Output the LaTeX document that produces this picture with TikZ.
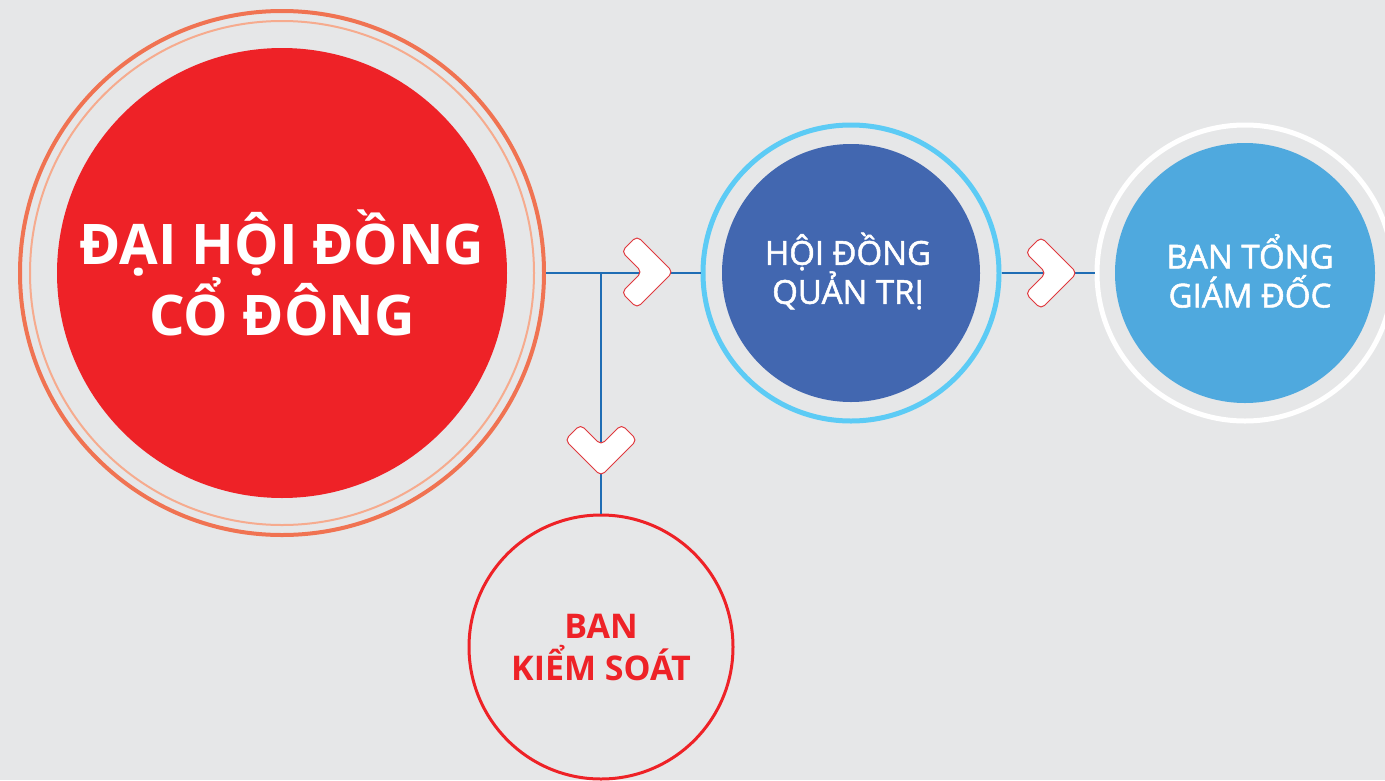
\documentclass[tikz,border=0pt]{standalone}
\usepackage{fontspec}
\setmainfont{Open Sans}
\newfontfamily\semibold{Open Sans}[UprightFeatures={FakeBold=1.6}]
\usepackage{tikz}
\usetikzlibrary{positioning, shapes.geometric, calc}

\definecolor{bggrey}{HTML}{E6E7E8}
\definecolor{ringorange}{HTML}{F07352}
\definecolor{ringpeach}{HTML}{F6AB8E}
\definecolor{redfill}{HTML}{EE2227}
\definecolor{navyfill}{HTML}{4267B0}
\definecolor{skyring}{HTML}{5CCBF5}
\definecolor{skyfill}{HTML}{4FA9DE}
\definecolor{linkblue}{HTML}{1F6DB4}
\definecolor{chevred}{HTML}{E0393E}

% chevron with its tip at (#1,#2), turned by #3
\newcommand{\chevron}[3]{%
  \begin{scope}[shift={(#1,#2)}, rotate=#3]
    \draw[chev] (0,0) -- (-36,-36) -- (-51.5,-20.5) -- (-31,0)
      -- (-51.5,20.5) -- (-36,36) -- cycle;
  \end{scope}}

\begin{document}
\begin{tikzpicture}[x=1pt, y=-1pt]
\tikzstyle{ring}=[circle, inner sep=0pt, draw]
\tikzstyle{disc}=[circle, inner sep=0pt, align=center, text=white]
\tikzstyle{link}=[draw=linkblue, line width=2pt]
\tikzstyle{chev}=[fill=white, draw=chevred, line width=1pt, rounded corners=5pt]

\fill[bggrey] (0,0) rectangle (1385,780);
\useasboundingbox (0,0) rectangle (1385,780);

% general meeting
\node (dhdcd ring) [ring, draw=ringorange, line width=4pt, minimum size=524pt]
  at (282,273) {};
\node (dhdcd thin) [ring, draw=ringpeach, line width=2pt, minimum size=504pt]
  at (dhdcd ring.center) {};
\node (dhdcd) [disc, fill=redfill, minimum size=450pt,
  font=\bfseries\fontsize{56}{61}\selectfont] at (dhdcd ring.center)
  {ĐẠI HỘI ĐỒNG\\CỔ ĐÔNG};

% board
\node (hdqt ring) [ring, draw=skyring, line width=5pt, minimum size=296pt]
  at (851,273) {};
\node (hdqt) [disc, fill=navyfill, minimum size=258pt] at (hdqt ring.center) {};
\node (hdqt text) [align=center, text=white,
  font=\semibold\fontsize{33}{39}\selectfont, xshift=-3pt, yshift=2pt]
  at (hdqt.center) {HỘI ĐỒNG\\QUẢN TRỊ};

% executive board
\node (btgd ring) [ring, draw=white, line width=5pt, minimum size=296pt]
  at (1245,273) {};
\node (btgd) [disc, fill=skyfill, minimum size=260pt] at (btgd ring.center) {};
\node (btgd text) [align=center, text=white,
  font=\semibold\fontsize{33}{39}\selectfont, xshift=5pt, yshift=2pt]
  at (btgd.center) {BAN TỔNG\\GIÁM ĐỐC};

% supervisory board
\node (bks) [ring, draw=redfill, line width=3pt, minimum size=264pt,
  align=center, text=redfill, font=\bfseries\fontsize{34}{42}\selectfont]
  at (601,647) {BAN\\KIỂM SOÁT};

\coordinate (split) at (bks.north |- dhdcd ring.east);

\draw [link] (dhdcd ring.east) -- (hdqt ring.west);
\draw [link] (split) -- (bks.north);
\draw [link] (hdqt ring.east) -- (btgd ring.west);

\chevron{673}{272}{0}
\chevron{1077}{273}{0}
\chevron{601}{476}{-90}
\end{tikzpicture}
\end{document}
